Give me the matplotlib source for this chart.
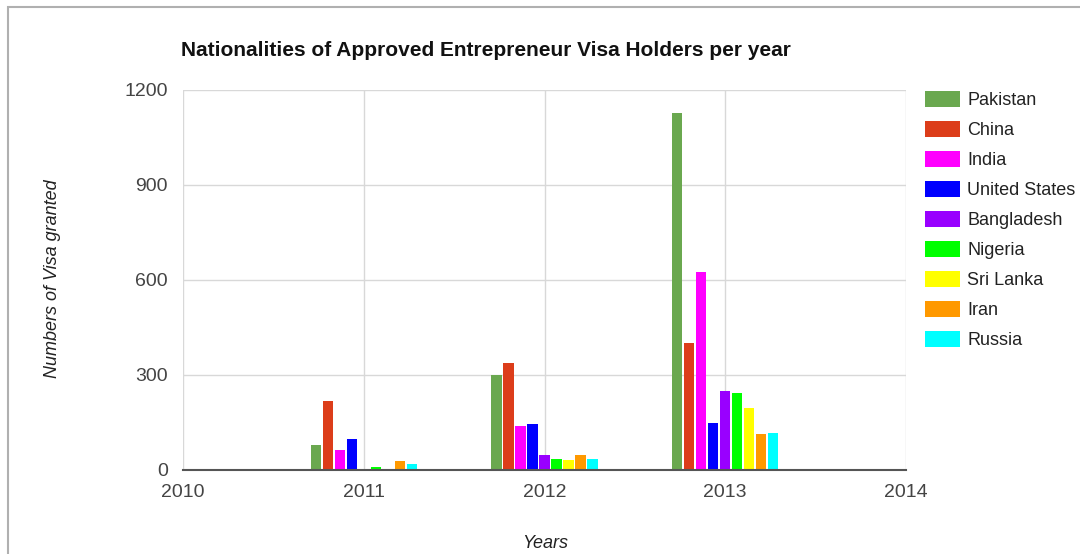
import numpy as np
import matplotlib.pyplot as plt
from matplotlib.patches import Rectangle

plt.rcParams['font.family'] = ['Liberation Sans', 'DejaVu Sans']

# Approved entrepreneur visas per nationality and year
years = [2011, 2012, 2013]
countries = ['Pakistan', 'China', 'India', 'United States', 'Bangladesh',
             'Nigeria', 'Sri Lanka', 'Iran', 'Russia']
pakistan = [78, 299, 1126]
china = [219, 339, 401]
india = [63, 139, 626]
united_states = [98, 145, 147]
bangladesh = [3, 47, 250]
nigeria = [10, 34, 243]
sri_lanka = [0, 32, 195]
iran = [29, 47, 114]
russia = [19, 34, 117]

series = [pakistan, china, india, united_states, bangladesh,
          nigeria, sri_lanka, iran, russia]
colors = ['#6aa84f', '#dc3d1a', '#ff00ff', '#0000ff', '#9900ff',
          '#00ff00', '#ffff00', '#ff9900', '#00ffff']

fig = plt.figure(figsize=(10.8, 5.54), dpi=100)
ax = fig.add_axes([183 / 1080, 1 - 470 / 554, 723 / 1080, 380 / 554])

# outer frame around the chart
fig.patches.append(Rectangle((8 / 1080, -0.1), 1.2, 1 - 7 / 554 + 0.1,
                             transform=fig.transFigure, fill=False,
                             edgecolor='#b0b0b0', linewidth=1.5))

slot = 0.0664
width = 0.057
x = np.array(years, dtype=float)
for i, (vals, name, c) in enumerate(zip(series, countries, colors)):
    ax.bar(x + (i - 4) * slot, vals, width=width, color=c, label=name, zorder=3)

ax.set_xlim(2010, 2014)
ax.set_ylim(0, 1200)
ax.set_xticks([2010, 2011, 2012, 2013, 2014])
ax.set_yticks([0, 300, 600, 900, 1200])
ax.tick_params(length=0, labelsize=14, labelcolor='#444444')
ax.tick_params(axis='x', pad=10)
ax.tick_params(axis='y', pad=11)
ax.grid(True, color='#d8d8d8', linewidth=1, zorder=0)
for side in ['top', 'right', 'left']:
    ax.spines[side].set_visible(False)
ax.spines['bottom'].set_color('#555555')
ax.spines['bottom'].set_linewidth(1.5)
ax.spines['bottom'].set_zorder(4)

fig.text(181 / 1080, 1 - 50 / 554, 'Nationalities of Approved Entrepreneur Visa Holders per year',
         fontsize=15, fontweight='bold', va='center', ha='left', color='#111111')
fig.text(53 / 1080, 1 - 279 / 554, 'Numbers of Visa granted', rotation=90,
         fontsize=13, style='italic', va='center', ha='center', color='#222222')
fig.text(545 / 1080, 1 - 544 / 554, 'Years', fontsize=13, style='italic',
         va='center', ha='center', color='#222222')

fig.legend(loc='upper left', bbox_to_anchor=(925 / 1080, 1 - 91 / 554),
           frameon=False, fontsize=13, handlelength=1.95, handleheight=0.95,
           labelspacing=0.665, handletextpad=0.4, borderpad=0, borderaxespad=0,
           labelcolor='#222222')

fig.savefig('out.png', dpi=100, facecolor='white')
